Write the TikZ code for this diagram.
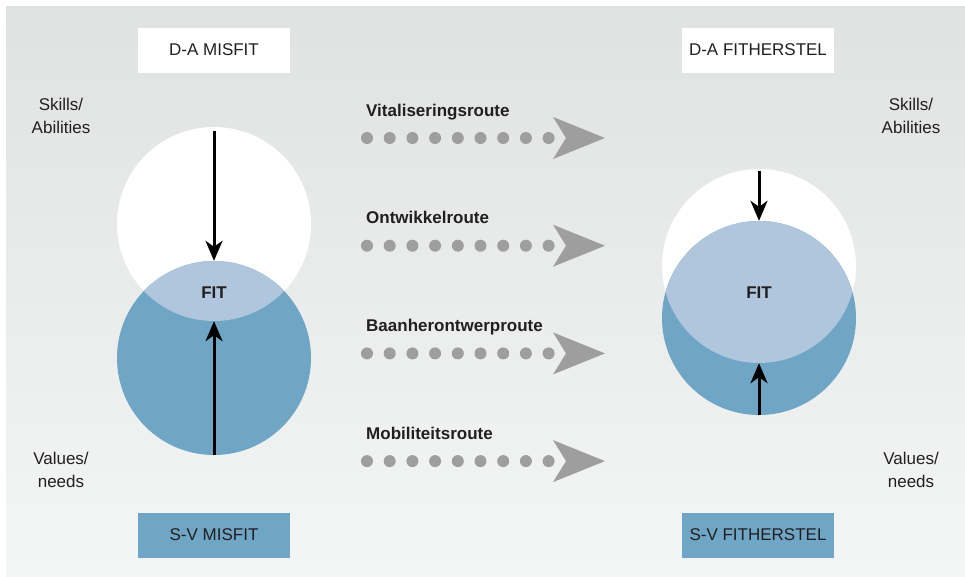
\documentclass[tikz,border=0pt]{standalone}
\usepackage{fontspec}
\setmainfont{Liberation Sans}
\usetikzlibrary{arrows.meta}
\definecolor{fitblue}{HTML}{6FA5C5}
\definecolor{lensblue}{HTML}{AFC6DC}
\definecolor{routegray}{HTML}{9E9E9E}
\definecolor{inktext}{HTML}{231F20}
\definecolor{bgtop}{HTML}{E0E1E1}
\definecolor{bgbottom}{HTML}{F4F5F5}

\begin{document}
\begin{tikzpicture}[x=1pt, y=-1pt]
    % Define styles
    \tikzset{
        labelbox/.style={minimum width=152pt, minimum height=45pt, inner sep=0pt, text=inktext, font=\fontsize{17pt}{20pt}\selectfont},
        sidetext/.style={align=center, text=inktext, font=\fontsize{17pt}{23pt}\selectfont},
        routelabel/.style={anchor=base west, inner sep=0pt, text=inktext, font=\bfseries\fontsize{17pt}{20pt}\selectfont},
        routedots/.style={routegray, line width=12pt, line cap=round, dash pattern=on 0pt off 22.7pt},
        routehead/.style={fill=routegray},
        fitcircle/.style={circle, minimum size=194pt, inner sep=0pt},
        fitarrow/.style={line width=3pt, -{Stealth[length=20pt, width=17pt, inset=6pt]}},
        fitlabel/.style={font=\bfseries\fontsize{17pt}{20pt}\selectfont, text=inktext}
    }

    % Background panel
    \useasboundingbox (0,0) rectangle (965,576);
    \shade[top color=bgtop, bottom color=bgbottom] (6,6) rectangle (965,576);

    % Misfit (left)
    \node[labelbox, fill=white] (damisfit) at (214,50) {D-A MISFIT};
    \node[labelbox, fill=fitblue] (svmisfit) at (214,535) {S-V MISFIT};
    \node[sidetext] (skillsleft) at (61,116) {Skills/\\Abilities};
    \node[sidetext] (valuesleft) at (61,470) {Values/\\needs};
    \node[fitcircle, fill=white] (abilitiesL) at (214,224) {};
    \node[fitcircle, fill=fitblue] (needsL) at (214,358) {};
    \begin{scope}
        \clip (abilitiesL.center) circle[radius=97pt];
        \fill[lensblue] (needsL.center) circle[radius=97pt];
    \end{scope}
    \draw[fitarrow] ([yshift=-4pt]abilitiesL.north) -- (needsL.north);
    \draw[fitarrow] (needsL.south) -- (abilitiesL.south);
    \node[fitlabel] (fitleft) at (214,293) {FIT};

    % Fitherstel (right)
    \node[labelbox, fill=white] (dafit) at (758,50) {D-A FITHERSTEL};
    \node[labelbox, fill=fitblue] (svfit) at (758,535) {S-V FITHERSTEL};
    \node[sidetext] (skillsright) at (911,116) {Skills/\\Abilities};
    \node[sidetext] (valuesright) at (911,470) {Values/\\needs};
    \node[fitcircle, fill=white] (abilitiesR) at (759,266) {};
    \node[fitcircle, fill=fitblue] (needsR) at (759,318) {};
    \begin{scope}
        \clip (abilitiesR.center) circle[radius=97pt];
        \fill[lensblue] (needsR.center) circle[radius=97pt];
    \end{scope}
    \draw[fitarrow] ([yshift=-2pt]abilitiesR.north) -- (needsR.north);
    \draw[fitarrow] (needsR.south) -- (abilitiesR.south);
    \node[fitlabel] (fitright) at (759,293) {FIT};

    % Routes
    \begin{scope}[shift={(0,0)}]
        \node[routelabel] (vital) at (366,116) {Vitaliseringsroute};
        \draw[routedots] (367,138) -- (549,138);
        \fill[routehead] (553,117) -- (605,138) -- (553,159) -- (566,138) -- cycle;
    \end{scope}
    \begin{scope}[shift={(0,107.7)}]
        \node[routelabel] (ontwikkel) at (366,116) {Ontwikkelroute};
        \draw[routedots] (367,138) -- (549,138);
        \fill[routehead] (553,117) -- (605,138) -- (553,159) -- (566,138) -- cycle;
    \end{scope}
    \begin{scope}[shift={(0,215.4)}]
        \node[routelabel] (baan) at (366,116) {Baanherontwerproute};
        \draw[routedots] (367,138) -- (549,138);
        \fill[routehead] (553,117) -- (605,138) -- (553,159) -- (566,138) -- cycle;
    \end{scope}
    \begin{scope}[shift={(0,323.1)}]
        \node[routelabel] (mobiel) at (366,116) {Mobiliteitsroute};
        \draw[routedots] (367,138) -- (549,138);
        \fill[routehead] (553,117) -- (605,138) -- (553,159) -- (566,138) -- cycle;
    \end{scope}
\end{tikzpicture}
\end{document}
